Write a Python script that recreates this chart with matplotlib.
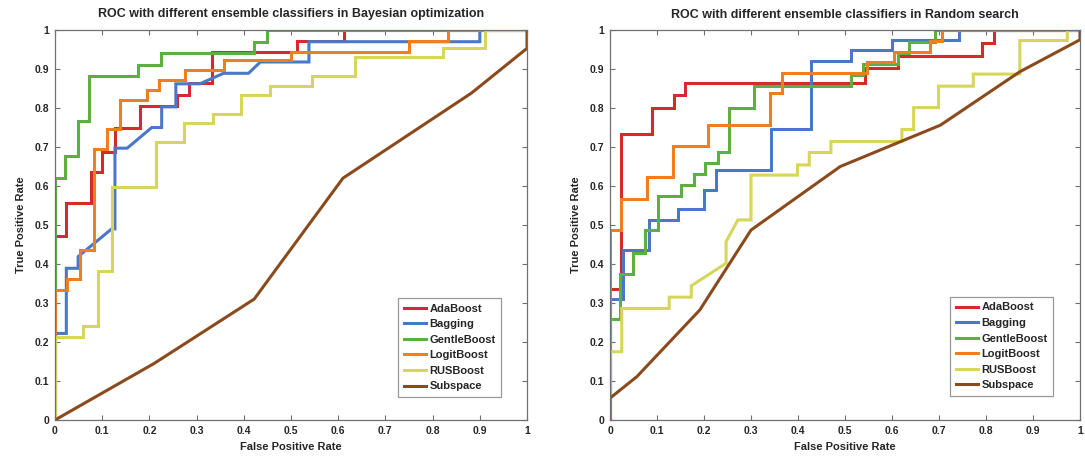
import matplotlib
matplotlib.use("Agg")
import matplotlib.pyplot as plt
from matplotlib.ticker import FuncFormatter

plt.rcParams['font.family'] = ['Liberation Sans', 'DejaVu Sans']

names = ["AdaBoost", "Bagging", "GentleBoost", "LogitBoost", "RUSBoost", "Subspace"]
colors = ["#d42a2f", "#4a78c8", "#5cb040", "#f07d1e", "#d6d65a", "#8b4a1c"]

# --- Bayesian optimization (left) ---
bo_ada_fpr = [0, 0, 0.024, 0.024, 0.077, 0.077, 0.10, 0.10, 0.127, 0.127, 0.18, 0.18, 0.258, 0.258,
              0.283, 0.283, 0.332, 0.332, 0.513, 0.513, 0.612, 0.612, 1]
bo_ada_tpr = [0, 0.472, 0.472, 0.556, 0.556, 0.637, 0.637, 0.688, 0.688, 0.75, 0.75, 0.805, 0.805, 0.833,
              0.833, 0.863, 0.863, 0.944, 0.944, 0.972, 0.972, 1, 1]

bo_bag_fpr = [0, 0, 0.024, 0.024, 0.049, 0.049, 0.12, 0.127, 0.127, 0.153, 0.205, 0.226, 0.226, 0.256,
              0.256, 0.307, 0.357, 0.41, 0.435, 0.538, 0.538, 0.90, 0.90, 1]
bo_bag_tpr = [0, 0.222, 0.222, 0.389, 0.389, 0.419, 0.49, 0.49, 0.697, 0.697, 0.75, 0.75, 0.803, 0.803,
              0.862, 0.862, 0.889, 0.889, 0.918, 0.918, 0.970, 0.970, 1, 1]

bo_gen_fpr = [0, 0, 0.022, 0.022, 0.049, 0.049, 0.073, 0.073, 0.176, 0.176, 0.224, 0.224, 0.422, 0.422,
              0.45, 0.45, 1]
bo_gen_tpr = [0, 0.62, 0.62, 0.677, 0.677, 0.767, 0.767, 0.882, 0.882, 0.910, 0.910, 0.942, 0.942, 0.970,
              0.970, 1, 1]

bo_log_fpr = [0, 0, 0.025, 0.025, 0.054, 0.054, 0.083, 0.083, 0.110, 0.110, 0.137, 0.137, 0.194, 0.194,
              0.221, 0.221, 0.276, 0.276, 0.357, 0.357, 0.499, 0.499, 0.751, 0.751, 0.832, 0.832, 1]
bo_log_tpr = [0, 0.333, 0.333, 0.361, 0.361, 0.436, 0.436, 0.694, 0.694, 0.745, 0.745, 0.820, 0.820, 0.846,
              0.846, 0.872, 0.872, 0.897, 0.897, 0.923, 0.923, 0.944, 0.944, 0.973, 0.973, 1, 1]

bo_rus_fpr = [0, 0, 0.059, 0.059, 0.091, 0.091, 0.12, 0.12, 0.214, 0.214, 0.274, 0.274, 0.334, 0.334,
              0.395, 0.395, 0.455, 0.455, 0.545, 0.545, 0.635, 0.635, 0.822, 0.822, 0.910, 0.910, 1]
bo_rus_tpr = [0, 0.214, 0.214, 0.241, 0.241, 0.383, 0.383, 0.598, 0.598, 0.714, 0.714, 0.761, 0.761, 0.785,
              0.785, 0.833, 0.833, 0.857, 0.857, 0.882, 0.882, 0.930, 0.930, 0.953, 0.953, 1, 1]

bo_sub_fpr = [0, 0.21, 0.422, 0.61, 0.882, 1, 1]
bo_sub_tpr = [0, 0.145, 0.31, 0.62, 0.838, 0.953, 1]

# --- Random search (right) ---
rs_ada_fpr = [0, 0, 0.023, 0.023, 0.090, 0.090, 0.136, 0.136, 0.159, 0.159, 0.542, 0.542, 0.612, 0.612,
              0.792, 0.792, 0.816, 0.816, 1]
rs_ada_tpr = [0, 0.335, 0.335, 0.733, 0.733, 0.799, 0.799, 0.833, 0.833, 0.865, 0.865, 0.902, 0.902, 0.933,
              0.933, 0.966, 0.966, 1, 1]

rs_bag_fpr = [0, 0, 0.028, 0.028, 0.083, 0.083, 0.145, 0.145, 0.201, 0.201, 0.226, 0.226, 0.343, 0.343,
              0.427, 0.427, 0.512, 0.512, 0.599, 0.599, 0.742, 0.742, 1]
rs_bag_tpr = [0, 0.309, 0.309, 0.436, 0.436, 0.513, 0.513, 0.540, 0.540, 0.590, 0.590, 0.641, 0.641, 0.745,
              0.745, 0.921, 0.921, 0.949, 0.949, 0.974, 0.974, 1, 1]

rs_gen_fpr = [0, 0, 0.022, 0.022, 0.049, 0.049, 0.074, 0.074, 0.102, 0.102, 0.152, 0.152, 0.178, 0.178,
              0.203, 0.203, 0.229, 0.229, 0.254, 0.254, 0.306, 0.306, 0.512, 0.512, 0.538, 0.538,
              0.613, 0.613, 0.637, 0.637, 0.691, 0.691, 1]
rs_gen_tpr = [0, 0.258, 0.258, 0.374, 0.374, 0.429, 0.429, 0.487, 0.487, 0.574, 0.574, 0.603, 0.603, 0.631,
              0.631, 0.658, 0.658, 0.686, 0.686, 0.799, 0.799, 0.856, 0.856, 0.885, 0.885, 0.913,
              0.913, 0.942, 0.942, 0.970, 0.970, 1, 1]

rs_log_fpr = [0, 0, 0.023, 0.023, 0.078, 0.078, 0.133, 0.133, 0.208, 0.208, 0.341, 0.341, 0.366, 0.366,
              0.547, 0.547, 0.604, 0.604, 0.681, 0.681, 0.706, 0.706, 1]
rs_log_tpr = [0, 0.487, 0.487, 0.567, 0.567, 0.624, 0.624, 0.703, 0.703, 0.756, 0.756, 0.839, 0.839, 0.891,
              0.891, 0.919, 0.919, 0.944, 0.944, 0.973, 0.973, 1, 1]

rs_rus_fpr = [0, 0, 0.025, 0.025, 0.126, 0.126, 0.173, 0.173, 0.247, 0.247, 0.272, 0.300, 0.300, 0.399,
              0.399, 0.424, 0.424, 0.470, 0.470, 0.621, 0.621, 0.646, 0.646, 0.699, 0.699, 0.773,
              0.773, 0.872, 0.872, 0.973, 0.973, 1]
rs_rus_tpr = [0, 0.175, 0.175, 0.286, 0.286, 0.315, 0.315, 0.344, 0.402, 0.457, 0.513, 0.513, 0.628, 0.628,
              0.654, 0.654, 0.686, 0.686, 0.714, 0.714, 0.745, 0.745, 0.801, 0.801, 0.856, 0.856,
              0.887, 0.887, 0.973, 0.973, 1, 1]

rs_sub_fpr = [0, 0, 0.057, 0.191, 0.300, 0.49, 0.703, 0.872, 1, 1]
rs_sub_tpr = [0, 0.056, 0.111, 0.282, 0.487, 0.65, 0.756, 0.893, 0.975, 1]

ticks = [0, 0.1, 0.2, 0.3, 0.4, 0.5, 0.6, 0.7, 0.8, 0.9, 1]


def fmt(v, pos):
    return "%g" % round(v, 1)


def draw_roc(ax, curves, title, legend_anchor):
    for (fpr, tpr), name, c in zip(curves, names, colors):
        ax.plot(fpr, tpr, color=c, lw=2.2, label=name, solid_joinstyle='miter')
    ax.set_xlim(0, 1)
    ax.set_ylim(0, 1)
    ax.set_xticks(ticks)
    ax.set_yticks(ticks)
    ax.xaxis.set_major_formatter(FuncFormatter(fmt))
    ax.yaxis.set_major_formatter(FuncFormatter(fmt))
    ax.tick_params(direction='in', length=3.5, width=0.8, color='#707070',
                   top=True, right=True, labelsize=7.5, labelcolor='#262626', pad=4)
    for lbl in ax.get_xticklabels() + ax.get_yticklabels():
        lbl.set_fontweight('bold')
    for sp in ax.spines.values():
        sp.set_color('#707070')
        sp.set_linewidth(0.9)
    ax.set_title(title, fontsize=9, fontweight='bold', color='#262626', pad=9)
    ax.set_xlabel("False Positive Rate", fontsize=8, fontweight='bold', color='#262626', labelpad=5)
    ax.set_ylabel("True Positive Rate", fontsize=8, fontweight='bold', color='#262626', labelpad=6)
    leg = ax.legend(loc='lower right', bbox_to_anchor=legend_anchor, fontsize=8, frameon=True,
                    fancybox=False, edgecolor='#808080', handlelength=2.0, handletextpad=0.3,
                    labelspacing=0.5, borderpad=0.5, borderaxespad=0)
    leg.get_frame().set_linewidth(0.9)
    for t in leg.get_texts():
        t.set_fontweight('bold')
        t.set_color('#262626')


fig = plt.figure(figsize=(10.85, 4.66), dpi=100)
ax1 = fig.add_axes([55 / 1085, 46 / 466, 472 / 1085, 390 / 466])
ax2 = fig.add_axes([610 / 1085, 46 / 466, 470 / 1085, 390 / 466])

draw_roc(ax1, [(bo_ada_fpr, bo_ada_tpr), (bo_bag_fpr, bo_bag_tpr), (bo_gen_fpr, bo_gen_tpr),
               (bo_log_fpr, bo_log_tpr), (bo_rus_fpr, bo_rus_tpr), (bo_sub_fpr, bo_sub_tpr)],
         "ROC with different ensemble classifiers in Bayesian optimization", (0.945, 0.059))
draw_roc(ax2, [(rs_ada_fpr, rs_ada_tpr), (rs_bag_fpr, rs_bag_tpr), (rs_gen_fpr, rs_gen_tpr),
               (rs_log_fpr, rs_log_tpr), (rs_rus_fpr, rs_rus_tpr), (rs_sub_fpr, rs_sub_tpr)],
         "ROC with different ensemble classifiers in Random search", (0.943, 0.062))

fig.savefig("out.png", dpi=100)
